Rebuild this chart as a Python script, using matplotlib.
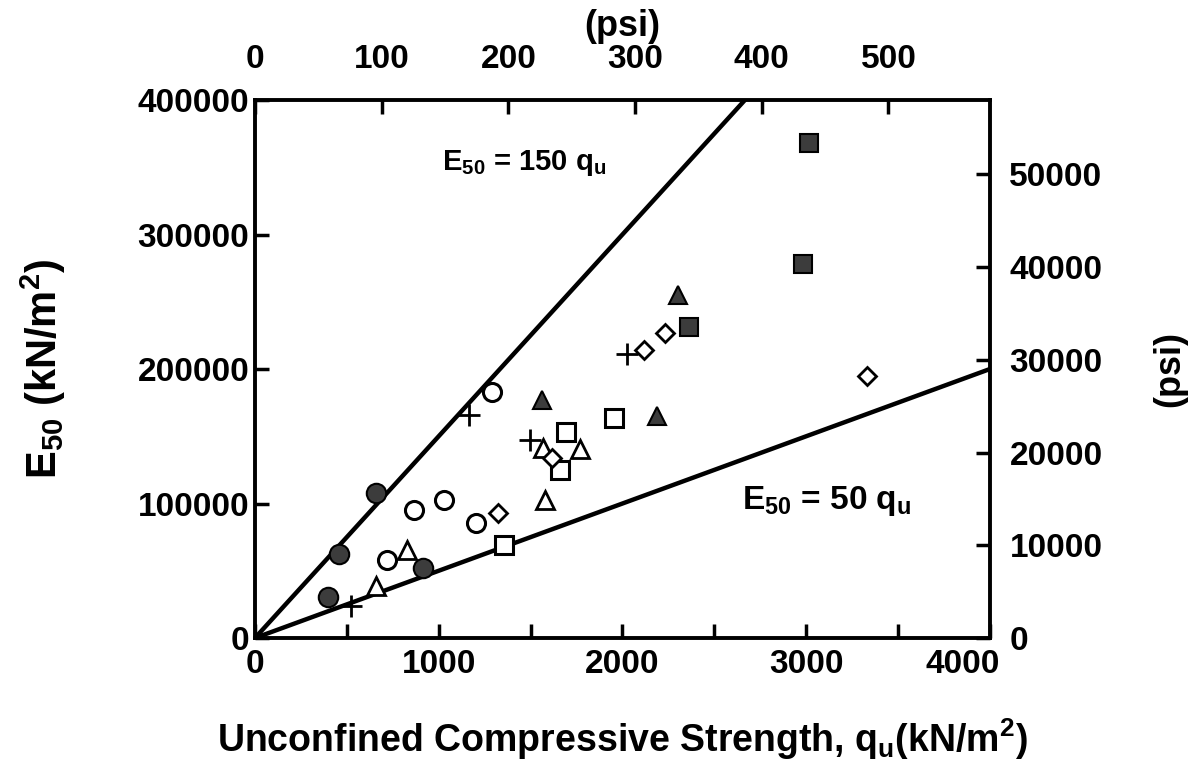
import matplotlib
matplotlib.use("Agg")
import matplotlib.pyplot as plt
from matplotlib.ticker import MultipleLocator, FixedLocator, FuncFormatter

plt.rcParams["font.family"] = ["Liberation Sans", "DejaVu Sans"]
plt.rcParams["font.weight"] = "bold"
plt.rcParams["mathtext.default"] = "regular"

KPA_PER_PSI = 6.895

# data: (q_u kN/m2, E50 kN/m2)
filled_circle_q = [400, 460, 660, 915]
filled_circle_e = [30500, 62500, 107500, 52000]

open_circle_q = [720, 865, 1030, 1205, 1290]
open_circle_e = [58000, 95000, 102500, 85500, 183000]

cross_q = [525, 1165, 1495, 2025]
cross_e = [23500, 166000, 147000, 211500]

open_tri_q = [660, 825, 1570, 1580, 1770]
open_tri_e = [38500, 65500, 141000, 102500, 140500]

open_sq_q = [1355, 1660, 1695, 1955]
open_sq_e = [69000, 125000, 153500, 163500]

open_dia_q = [1325, 1615, 2115, 2230, 3330]
open_dia_e = [93000, 134000, 214500, 227000, 195000]

filled_tri_q = [1560, 2190, 2305]
filled_tri_e = [177000, 165000, 255000]

filled_sq_q = [2360, 2980, 3015]
filled_sq_e = [231000, 278000, 368000]

line_q = [0, 4000]
ratios = [150, 50]

psi_x_ticks = [0, 100, 200, 300, 400, 500]
psi_y_ticks = [0, 10000, 20000, 30000, 40000, 50000]

fig = plt.figure(figsize=(11.93, 7.61), dpi=100)
ax = fig.add_axes([0.2137, 0.1616, 0.6161, 0.707])

for r in ratios:
    ax.plot(line_q, [r * q for q in line_q], color="black", lw=3.2, zorder=2)

dark = "#3c3c3c"
ax.plot(filled_circle_q, filled_circle_e, "o", ms=14, mfc=dark, mec="black", mew=1.5, ls="none", zorder=3)
ax.plot(open_circle_q, open_circle_e, "o", ms=13, mfc="white", mec="black", mew=2.2, ls="none", zorder=3)
ax.plot(cross_q, cross_e, "+", ms=16, mec="black", mew=2.0, ls="none", zorder=3)
ax.plot(open_tri_q, open_tri_e, "^", ms=13, mfc="white", mec="black", mew=2.0, ls="none", zorder=3)
ax.plot(open_sq_q, open_sq_e, "s", ms=13.5, mfc="white", mec="black", mew=2.2, ls="none", zorder=3)
ax.plot(open_dia_q, open_dia_e, "D", ms=9, mfc="white", mec="black", mew=2.0, ls="none", zorder=3)
ax.plot(filled_tri_q, filled_tri_e, "^", ms=13, mfc=dark, mec="black", mew=1.5, ls="none", zorder=3)
ax.plot(filled_sq_q, filled_sq_e, "s", ms=13.5, mfc=dark, mec="black", mew=1.5, ls="none", zorder=3)

x_max = 4000
ax.set_xlim(0, x_max)
ax.set_ylim(0, 400000)
ax.xaxis.set_major_locator(MultipleLocator(1000))
ax.xaxis.set_minor_locator(MultipleLocator(500))
ax.yaxis.set_major_locator(MultipleLocator(100000))
# the last bottom label is drawn separately, nudged left of the right-hand "0"
ax.xaxis.set_major_formatter(FuncFormatter(lambda v, p: "" if v >= x_max else f"{v:.0f}"))

tick_fs = 24
ax.tick_params(which="both", direction="in", length=10, width=2.5, labelsize=tick_fs)
ax.tick_params(axis="x", pad=8)
ax.tick_params(axis="y", pad=4)
for s in ax.spines.values():
    s.set_linewidth(2.8)

ax.annotate(f"{x_max}", xy=(1, 0), xycoords="axes fraction", xytext=(7, -8),
            textcoords="offset points", ha="right", va="top", fontsize=tick_fs, fontweight="bold")

ax.set_xlabel("Unconfined Compressive Strength, q$_u$(kN/m$^2$)", fontsize=27, fontweight="bold", labelpad=26)
ax.set_ylabel("E$_{50}$ (kN/m$^2$)", fontsize=30, fontweight="bold", labelpad=50)

top = ax.secondary_xaxis("top", functions=(lambda x: x / KPA_PER_PSI, lambda x: x * KPA_PER_PSI))
top.xaxis.set_major_locator(FixedLocator(psi_x_ticks))
top.tick_params(direction="in", length=10, width=2.5, labelsize=tick_fs, pad=18)
top.set_xlabel("(psi)", fontsize=26, fontweight="bold", labelpad=6)

right = ax.secondary_yaxis("right", functions=(lambda y: y / KPA_PER_PSI, lambda y: y * KPA_PER_PSI))
right.yaxis.set_major_locator(FixedLocator(psi_y_ticks))
right.tick_params(direction="in", length=10, width=2.5, labelsize=tick_fs, pad=14)
right.set_ylabel("(psi)", fontsize=26, fontweight="bold", labelpad=36)

ax.text(1020, 348000, "E$_{50}$ = 150 q$_u$", fontsize=21, fontweight="bold")
ax.text(2650, 96000, "E$_{50}$ = 50 q$_u$", fontsize=24, fontweight="bold")

fig.savefig("out.png", dpi=100)
